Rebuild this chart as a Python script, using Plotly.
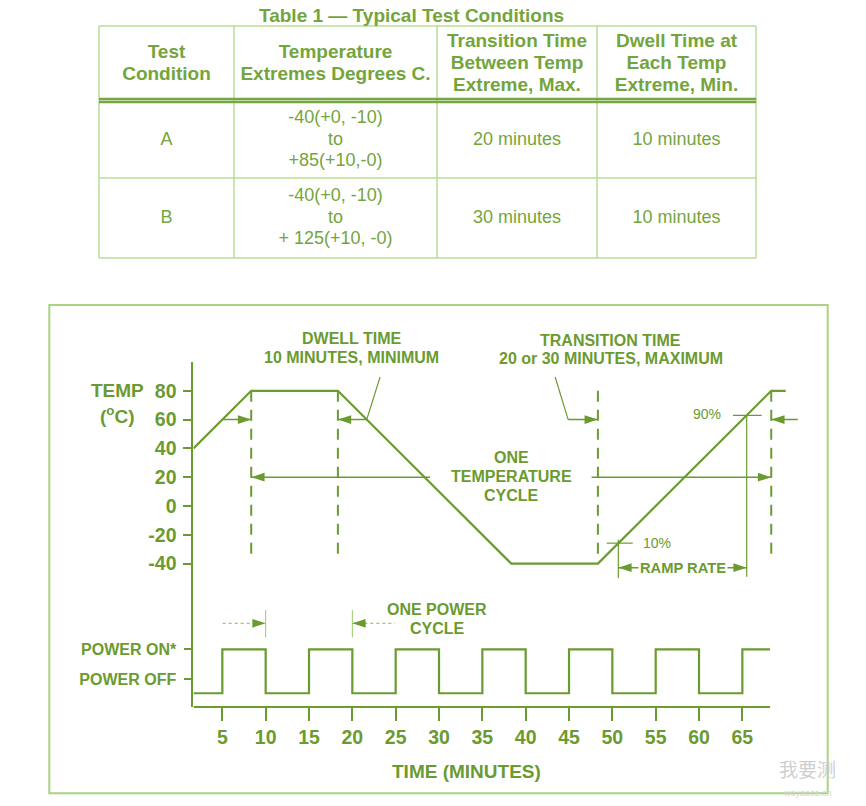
import plotly.graph_objects as go

# ---------------- data ----------------
table_title = "Table 1 — Typical Test Conditions"
header_labels = [
    "Test<br>Condition",
    "Temperature<br>Extremes Degrees C.",
    "Transition Time<br>Between Temp<br>Extreme, Max.",
    "Dwell Time at<br>Each Temp<br>Extreme, Min.",
]
conditions = ["A", "B"]
temp_extremes = ["-40(+0, -10)<br>to<br>+85(+10,-0)", "-40(+0, -10)<br>to<br>+ 125(+10, -0)"]
transition_times = ["20 minutes", "30 minutes"]
dwell_times = ["10 minutes", "10 minutes"]

# temperature profile (minutes, deg C)
cycle_time = [1.667, 8.333, 18.333, 38.333, 48.333, 68.333, 70.0]
cycle_temp = [40, 80, 80, -40, -40, 80, 80]

# power cycling (on = 1, drawn low level = -0.48)
power_time = [1.667, 5, 10, 15, 20, 25, 30, 35, 40, 45, 50, 55, 60, 65, 68.2]
power_level = [-0.48, 1, -0.48, 1, -0.48, 1, -0.48, 1, -0.48, 1, -0.48, 1, -0.48, 1, 1]

temp_ticks = [-40, -20, 0, 20, 40, 60, 80]
temp_labels = ["-40", "-20", "0", "20", "40", "60", "80"]
time_ticks = [5, 10, 15, 20, 25, 30, 35, 40, 45, 50, 55, 60, 65]
power_ticks = [0, 1]
power_labels = ["POWER OFF", "POWER ON*"]

# dashed markers at the start/end of dwell and transition
dwell_marks = [8.333, 18.333]
transition_marks = [48.333, 68.333]
mark_top, mark_bottom = 80, -35

# arrow shafts on temperature axis
shaft_x = [5.0, 8.333, None, 18.333, 21.67, None,          # dwell arrows at 60
           44.9, 48.333, None, 68.333, 71.4, None,          # transition arrows at 60
           8.333, 28.96, None, 47.6, 68.333, None,          # one temperature cycle at 20
           50.69, 65.5]                                      # ramp rate
shaft_y = [60, 60, None, 60, 60, None,
           60, 60, None, 60, 60, None,
           20, 20, None, 20, 20, None,
           -42.8, -42.8]
# thin leader / 10% and 90% marker lines
leader_x = [23.2, 21.66, None, 43.4, 44.9, None,
            63.92, 67.23, None, 65.5, 65.5, None,
            49.35, 52.35, None, 50.69, 50.69]
leader_y = [89.6, 60, None, 89.6, 60, None,
            63, 63, None, 63, -49.1, None,
            -25.8, -25.8, None, -23.5, -50.2]
# arrow heads: x, y, direction angle
head_x = [8.333, 18.333, 48.333, 68.333, 8.333, 68.333, 50.69, 65.5]
head_y = [60, 60, 60, 60, 20, 20, -42.8, -42.8]
head_angle = [90, -90, 90, -90, -90, 90, -90, 90]
# power cycle arrows (on power axis)
pshaft_x = [5.04, 10, None, 20, 24.9]
pshaft_y = [1.875, 1.875, None, 1.875, 1.875]
ptick_x = [10, 10, None, 20, 20]
ptick_y = [2.32, 1.40, None, 2.32, 1.40]
phead_x = [10, 20]
phead_y = [1.875, 1.875]
phead_angle = [90, -90]
bottom_axis_end = 68.2

# ---------------- style ----------------
GREEN = "#6b9b30"
TGREEN = "#74a53c"
LIGHT = "#9cc86a"
FRAME = "#a9d381"
TABLE_LINE = "#b9dc95"
FONT = "Liberation Sans"
W, H = 866, 806

# pixel mapping for the chart area
PX_PER_MIN = 8.667
X0_PX = 179.0
X_START, X_END = 1.667, 72.0
PLOT_TOP, PLOT_BOTTOM = 362.0, 707.0
T_ZERO_PX, PX_PER_DEG = 506.0, 1.44
P_ZERO_PX, PX_PER_P = 679.0, 29.7

# table geometry (pixel units)
TABLE_LEFT, TABLE_TOP = 99.0, 26.0
col_widths = [135, 203, 160, 159]
row_heights = [76, 76, 80]          # header, row A, row B
LINE_SP = 21.8


def px(p):
    return p / W


def py(p):
    return 1 - p / H


fig = go.Figure()

# ---------- table drawn on its own hidden axes ----------
col_edges = [0]
for w in col_widths:
    col_edges.append(col_edges[-1] + w)
table_w = col_edges[-1]
table_h = sum(row_heights)
row_edges = [table_h]
for h in row_heights:
    row_edges.append(row_edges[-1] - h)

gx, gy = [], []
for ye in row_edges:
    gx += [0, table_w, None]
    gy += [ye, ye, None]
for xe in col_edges:
    gx += [xe, xe, None]
    gy += [0, table_h, None]
fig.add_trace(go.Scatter(x=gx, y=gy, mode="lines", xaxis="x3", yaxis="y3",
                         line=dict(color=TABLE_LINE, width=1.5), hoverinfo="skip"))
# header rule (double line)
hr = row_edges[1]
fig.add_trace(go.Scatter(x=[0, table_w, None, 0, table_w], y=[hr + 3, hr + 3, None, hr, hr],
                         mode="lines", xaxis="x3", yaxis="y3",
                         line=dict(color="#76a842", width=2.5), hoverinfo="skip"))


def cell_lines(text, col, row):
    lines = text.split("<br>")
    xc = (col_edges[col] + col_edges[col + 1]) / 2
    yc = (row_edges[row] + row_edges[row + 1]) / 2
    n = len(lines)
    xs, ys = [], []
    for k in range(n):
        xs.append(xc)
        ys.append(yc + ((n - 1) / 2 - k) * LINE_SP)
    return xs, ys, lines


hx, hy, ht = [], [], []
for c, lab in enumerate(header_labels):
    a, b, t = cell_lines(lab, c, 0)
    hx += a; hy += b; ht += t
fig.add_trace(go.Scatter(x=hx, y=hy, text=ht, mode="text", xaxis="x3", yaxis="y3",
                         textposition="middle center",
                         textfont=dict(family=FONT, size=19, color=TGREEN, weight="bold"),
                         hoverinfo="skip"))
bx, by, bt = [], [], []
for r in range(2):
    for c, col in enumerate([conditions, temp_extremes, transition_times, dwell_times]):
        a, b, t = cell_lines(col[r], c, r + 1)
        bx += a; by += b; bt += t
fig.add_trace(go.Scatter(x=bx, y=by, text=bt, mode="text", xaxis="x3", yaxis="y3",
                         textposition="middle center",
                         textfont=dict(family=FONT, size=18, color=TGREEN),
                         hoverinfo="skip"))

# ---------- chart ----------
fig.add_trace(go.Scatter(x=cycle_time, y=cycle_temp, mode="lines",
                         line=dict(color=GREEN, width=2.2), hoverinfo="skip"))
dx, dy = [], []
for m in dwell_marks + transition_marks:
    dx += [m, m, None]
    dy += [mark_top, mark_bottom, None]
fig.add_trace(go.Scatter(x=dx, y=dy, mode="lines",
                         line=dict(color=GREEN, width=2, dash="11px,8px"), hoverinfo="skip"))
fig.add_trace(go.Scatter(x=shaft_x, y=shaft_y, mode="lines",
                         line=dict(color=GREEN, width=1.5), hoverinfo="skip"))
fig.add_trace(go.Scatter(x=leader_x, y=leader_y, mode="lines",
                         line=dict(color=GREEN, width=1.2), hoverinfo="skip"))
fig.add_trace(go.Scatter(x=head_x, y=head_y, mode="markers",
                         marker=dict(symbol="arrow", size=14, angle=head_angle, color=GREEN,
                                     line=dict(width=0)), hoverinfo="skip"))
fig.add_trace(go.Scatter(x=power_time, y=power_level, mode="lines", yaxis="y2",
                         line=dict(color=GREEN, width=2.2, shape="hv"), hoverinfo="skip"))
fig.add_trace(go.Scatter(x=pshaft_x, y=pshaft_y, mode="lines", yaxis="y2",
                         line=dict(color=LIGHT, width=1.2, dash="dot"), hoverinfo="skip"))
fig.add_trace(go.Scatter(x=ptick_x, y=ptick_y, mode="lines", yaxis="y2",
                         line=dict(color=LIGHT, width=1), hoverinfo="skip"))
fig.add_trace(go.Scatter(x=phead_x, y=phead_y, mode="markers", yaxis="y2",
                         marker=dict(symbol="arrow", size=14, angle=phead_angle, color=GREEN,
                                     line=dict(width=0)), hoverinfo="skip"))

x_dom = [px(X0_PX + X_START * PX_PER_MIN), px(X0_PX + X_END * PX_PER_MIN)]
y_dom = [py(PLOT_BOTTOM), py(PLOT_TOP)]
t_range = [(T_ZERO_PX - PLOT_BOTTOM) / PX_PER_DEG, (T_ZERO_PX - PLOT_TOP) / PX_PER_DEG]
p_range = [(P_ZERO_PX - PLOT_BOTTOM) / PX_PER_P, (P_ZERO_PX - PLOT_TOP) / PX_PER_P]

bold = dict(family=FONT, color=GREEN, weight="bold")


def ann(text, x, y, size, xref="x", yref="y", weight="bold", **kw):
    d = dict(text=text, x=x, y=y, xref=xref, yref=yref, showarrow=False,
             font=dict(family=FONT, size=size, color=GREEN, weight=weight),
             xanchor="center", yanchor="middle")
    d.update(kw)
    return d


annotations = [
    ann(table_title, px(411), py(15), 19, xref="paper", yref="paper",
        font=dict(family=FONT, size=19, color=TGREEN, weight="bold")),
    ann("DWELL TIME", 19.93, py(338.3), 16, yref="paper"),
    ann("10 MINUTES, MINIMUM", 19.93, py(357.3), 16, yref="paper"),
    ann("TRANSITION TIME", 49.8, py(340), 16, yref="paper"),
    ann("20 or 30 MINUTES, MAXIMUM", 49.8, py(359), 16, yref="paper"),
    ann("ONE", 38.4, 33.5, 16),
    ann("TEMPERATURE", 38.4, 20.8, 16),
    ann("CYCLE", 38.4, 7.6, 16),
    ann("90%", 60.9, 63.9, 14, weight="normal"),
    ann("10%", 55.1, -25.5, 14, weight="normal"),
    ann("RAMP RATE", 58.15, -42.8, 14.7, bgcolor="white", borderpad=1),
    ann("TEMP", px(117), 80, 19, xref="paper"),
    ann("(<sup>o</sup>C)", px(117), 63.2, 19, xref="paper"),
    ann("ONE POWER", 29.77, 2.357, 16, yref="y2"),
    ann("CYCLE", 29.77, 1.717, 16, yref="y2"),
    ann("TIME (MINUTES)", 33.2, py(771), 19, yref="paper"),
    dict(text="我要测", x=px(807), y=py(768), xref="paper", yref="paper", showarrow=False,
         xanchor="center", yanchor="middle",
         font=dict(family="Noto Sans CJK SC", size=19, color="#cfcfcf")),
    dict(text="woyaoce.cn", x=px(807), y=py(793), xref="paper", yref="paper", showarrow=False,
         xanchor="center", yanchor="middle",
         font=dict(family=FONT, size=9, color="#d2d2d2")),
]

shapes = [
    dict(type="rect", xref="paper", yref="paper", x0=px(49.3), x1=px(827.7), y0=py(793.3), y1=py(305),
         line=dict(color=FRAME, width=2), layer="below"),
    dict(type="line", xref="x", yref="y2 domain", x0=X_START, x1=bottom_axis_end, y0=0, y1=0,
         line=dict(color=GREEN, width=2)),
]

TPAD = 6
fig.update_layout(
    width=W, height=H, margin=dict(l=0, r=0, t=0, b=0),
    paper_bgcolor="white", plot_bgcolor="white", showlegend=False,
    xaxis=dict(domain=x_dom, range=[X_START, X_END], showline=False, showgrid=False, zeroline=False,
               ticks="outside", ticklen=13, tickwidth=2, tickcolor=GREEN, tickvals=time_ticks,
               tickfont=dict(size=19.5, **bold), anchor="y", fixedrange=True),
    yaxis=dict(domain=y_dom, range=t_range, showline=True, linecolor=GREEN, linewidth=2,
               showgrid=False, zeroline=False, ticks="outside", ticklen=8, tickwidth=2,
               tickcolor=GREEN, tickvals=temp_ticks, ticktext=temp_labels, ticklabelstandoff=3,
               tickfont=dict(size=19.5, **bold), fixedrange=True),
    yaxis2=dict(range=p_range, overlaying="y", side="left", anchor="x", showline=False,
                showgrid=False, zeroline=False, ticks="outside", ticklen=8, tickwidth=2,
                tickcolor=GREEN, tickvals=power_ticks, ticktext=power_labels, ticklabelstandoff=5,
                tickfont=dict(size=16, **bold), fixedrange=True),
    xaxis3=dict(domain=[px(TABLE_LEFT - TPAD), px(TABLE_LEFT + table_w + TPAD)],
                range=[-TPAD, table_w + TPAD], visible=False, anchor="y3", fixedrange=True),
    yaxis3=dict(domain=[py(TABLE_TOP + table_h + TPAD), py(TABLE_TOP - TPAD)],
                range=[-TPAD, table_h + TPAD], visible=False, anchor="x3", fixedrange=True),
    annotations=annotations,
    shapes=shapes,
)

fig.write_html("out.html")
